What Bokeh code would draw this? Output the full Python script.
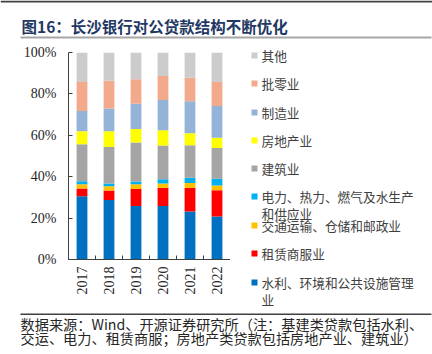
from math import pi
from bokeh.plotting import figure
from bokeh.layouts import column, row
from bokeh.models import ColumnDataSource, FixedTicker, Range1d
from bokeh.core.properties import value
from bokeh.embed import file_html
from bokeh.resources import INLINE

# ---------------- data ----------------
years = ["2017", "2018", "2019", "2020", "2021", "2022"]
water = [30.6, 28.7, 25.9, 25.8, 23.2, 20.8]          # 水利、环境和公共设施管理业
lease = [3.7, 4.6, 8.1, 8.7, 11.3, 12.7]              # 租赁商服业
transport = [2.1, 2.1, 2.4, 2.2, 2.4, 2.2]            # 交通运输、仓储和邮政业
power = [1.4, 1.3, 1.3, 2.1, 2.6, 3.3]                # 电力、热力、燃气及水生产和供应业
construction = [17.9, 17.6, 18.8, 16.3, 15.7, 14.9]   # 建筑业
realestate = [6.3, 7.7, 6.5, 7.4, 5.8, 4.9]           # 房地产业
manufacturing = [9.7, 10.9, 12.2, 14.5, 15.5, 15.4]   # 制造业
wholesale = [14.0, 13.4, 11.9, 11.6, 11.3, 11.5]      # 批零业
other = [14.3, 13.7, 12.9, 11.4, 12.2, 14.3]          # 其他

series_names = ["水利、环境和公共设施管理业", "租赁商服业", "交通运输、仓储和邮政业",
                "电力、热力、燃气及水生产和供应业", "建筑业", "房地产业", "制造业", "批零业", "其他"]
series_values = [water, lease, transport, power, construction, realestate, manufacturing, wholesale, other]
colors = ["#0070C0", "#FF0000", "#FFC000", "#00B0F0", "#A5A5A5", "#FFFF00", "#95B3D7", "#F2A98C", "#CCCCCC"]

# legend lines (top to bottom), wrapped as in the reference
legend_lines = [["其他"], ["批零业"], ["制造业"], ["房地产业"], ["建筑业"],
                ["电力、热力、燃气及水生产", "和供应业"], ["交通运输、仓储和邮政业"],
                ["租赁商服业"], ["水利、环境和公共设施管理", "业"]]
legend_colors = colors[::-1]

y_ticks = [0, 20, 40, 60, 80, 100]
title_text = "图16：长沙银行对公贷款结构不断优化"
footer_lines = ["数据来源：Wind、开源证券研究所（注：基建类贷款包括水利、",
                "交运、电力、租赁商服；房地产类贷款包括房地产业、建筑业）"]

# ---------------- geometry (canvas px) ----------------
W, H = 432, 354
TOP_H = 40          # title strip: y 0..40
MID_H = 270         # chart + legend strip: y 40..310
BOT_H = H - TOP_H - MID_H
CHART_W = 230
FL, FT, FB = 68, 52, 259   # chart frame left / top / bottom (canvas px)
CJK = "Noto Sans CJK SC"


def blank(w, h, x0, x1, y0, y1):
    f = figure(frame_width=w, frame_height=h, output_backend="svg", toolbar_location=None,
               title=None, x_range=Range1d(x0, x1), y_range=Range1d(y1, y0),
               min_border=0, x_axis_type=None, y_axis_type=None)
    f.outline_line_color = None
    f.xgrid.visible = False
    f.ygrid.visible = False
    f.background_fill_color = "white"
    f.border_fill_color = "white"
    return f


# ---------------- title strip ----------------
ptop = blank(W, TOP_H, 0, W, 0, TOP_H)
ptop.quad(left=[0], right=[W], top=[0], bottom=[2], color="#404040", line_color=None)
ptop.text(x=[21], y=[25], text=[title_text], text_font=value(CJK), text_font_style="bold",
          text_font_size="15.5px", text_color="#1F3864", text_baseline="middle")
ptop.quad(left=[20], right=[431], top=[36], bottom=[38], color="#A6A6A6", line_color=None)

# ---------------- chart ----------------
x_pos = [i + 0.5 for i in range(len(years))]
keys = [f"s{i}" for i in range(len(series_values))]
data = {"x": x_pos}
for k, v in zip(keys, series_values):
    data[k] = v
src = ColumnDataSource(data)

p = figure(width=CHART_W, height=MID_H, output_backend="svg", toolbar_location=None, title=None,
           x_range=Range1d(0, len(years)), y_range=Range1d(0, 100),
           min_border_left=FL, min_border_right=0,
           min_border_top=FT - TOP_H, min_border_bottom=TOP_H + MID_H - FB)
p.outline_line_color = None
p.xgrid.grid_line_color = None
p.ygrid.grid_line_color = None
p.background_fill_color = "white"
p.border_fill_color = "white"

p.vbar_stack(keys, x="x", width=0.4, source=src, color=colors, line_color=None)

axis_color = "#404040"
ya = p.yaxis[0]
ya.ticker = FixedTicker(ticks=y_ticks, minor_ticks=[])
ya.major_label_overrides = {t: f"{t}%" for t in y_ticks}
ya.major_tick_in = 4
ya.major_tick_out = 0
ya.minor_tick_in = 0
ya.minor_tick_out = 0
ya.major_label_standoff = 12
ya.axis_line_color = axis_color
ya.major_tick_line_color = axis_color
ya.major_label_text_font = "Liberation Serif"
ya.major_label_text_font_size = "14px"
ya.major_label_text_color = "#262626"

xa = p.xaxis[0]
xa.ticker = FixedTicker(ticks=x_pos, minor_ticks=list(range(len(years) + 1)))
xa.major_label_overrides = {x: y for x, y in zip(x_pos, years)}
xa.major_tick_in = 0
xa.major_tick_out = 0
xa.minor_tick_in = 4
xa.minor_tick_out = 0
xa.minor_tick_line_color = axis_color
xa.axis_line_color = axis_color
xa.major_label_orientation = pi / 2
xa.major_label_standoff = 7
xa.major_label_text_font = "Liberation Serif"
xa.major_label_text_font_size = "14px"
xa.major_label_text_color = "#262626"

# ---------------- legend strip ----------------
pleg = blank(W - CHART_W, MID_H, CHART_W, W, TOP_H, TOP_H + MID_H)
legend_y = [55, 83, 112, 140, 168, 196, 225, 253, 282]
pleg.rect(x=[254] * len(legend_y), y=legend_y, width=6, height=6,
          color=legend_colors, line_color=None)
tx, ty, tt = [], [], []
for lines, yc in zip(legend_lines, legend_y):
    for j, t in enumerate(lines):
        tx.append(261)
        ty.append(yc + j * 17)
        tt.append(t)
pleg.text(x=tx, y=ty, text=tt, text_font=value(CJK), text_font_size="12.7px",
          text_color="#404040", text_baseline="middle")

# ---------------- footer strip ----------------
y0 = TOP_H + MID_H
pbot = blank(W, BOT_H, 0, W, y0, H)
pbot.quad(left=[20], right=[431], top=[313], bottom=[314.5], color="#404040", line_color=None)
pbot.text(x=[20, 20], y=[323, 337], text=footer_lines, text_font=value(CJK),
          text_font_size="14.2px", text_color="#262626", text_baseline="middle")

layout = column(ptop, row(p, column(pleg, spacing=0), spacing=0), pbot, spacing=0)
open("out.html", "w").write(file_html(layout, INLINE))
